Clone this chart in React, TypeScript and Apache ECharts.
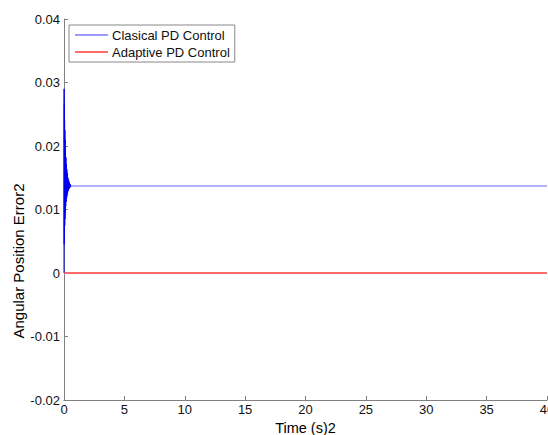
import React, { useEffect, useRef } from "react";
import * as echarts from "echarts";

const seriesNames = ["Clasical PD Control", "Adaptive PD Control"];
const classicalTime = [0, 0.01, 0.02, 0.03, 0.04, 0.05, 0.06, 0.07, 0.08, 0.09, 0.1, 0.12, 0.14, 0.16, 0.18, 0.2, 0.22, 0.24, 0.26, 0.28, 0.3, 0.33, 0.36, 0.39, 0.42, 0.45, 0.48, 0.52, 0.56, 0.6, 40];
const classicalError = [0, 0.029, 0.0045, 0.0265, 0.006, 0.024, 0.0075, 0.0225, 0.0085, 0.021, 0.0095, 0.0195, 0.0105, 0.0182, 0.0112, 0.0172, 0.0118, 0.0163, 0.0122, 0.0157, 0.0126, 0.015, 0.0129, 0.0146, 0.0132, 0.0143, 0.0134, 0.014, 0.0136, 0.0137, 0.0137];
const adaptiveTime = [0, 40];
const adaptiveError = [0, 0];
const xTicks = [0, 5, 10, 15, 20, 25, 30, 35, 40];
const yTicks = [-0.02, -0.01, 0, 0.01, 0.02, 0.03, 0.04];
const xTitle = "Time (s)2";
const yTitle = "Angular Position Error2";

export default function App() {
  const ref = useRef<HTMLDivElement>(null);
  useEffect(() => {
    if (!ref.current) return;
    const chart = echarts.init(ref.current, undefined, { renderer: "svg" });
    const font = "Arial, 'Liberation Sans', sans-serif";
    const axisColor = "#808080";
    const classical = classicalTime.map((t, i) => [t, classicalError[i]]);
    const settleIdx = classicalTime.indexOf(0.6);
    chart.setOption({
      animation: false,
      backgroundColor: "#ffffff",
      grid: { left: 64, right: 1, top: 19, bottom: 35, containLabel: false, outerBoundsMode: "none" },
      legend: {
        orient: "vertical",
        left: 69,
        top: 25,
        padding: [3, 5, 3, 6],
        itemGap: 3,
        itemWidth: 33,
        itemHeight: 2,
        icon: "rect",
        borderColor: "#888888",
        borderWidth: 1,
        backgroundColor: "#ffffff",
        textStyle: { fontFamily: font, fontSize: 13, color: "#111", padding: [0, 0, 0, -1], lineHeight: 14 },
        data: seriesNames,
      },
      xAxis: {
        type: "value",
        min: xTicks[0],
        max: xTicks[xTicks.length - 1],
        interval: xTicks[1] - xTicks[0],
        name: xTitle,
        nameLocation: "middle",
        nameGap: 19,
        nameTextStyle: { fontFamily: font, fontSize: 14.5, color: "#000", lineHeight: 15 },
        axisLine: { show: true, onZero: false, lineStyle: { color: axisColor, width: 1 } },
        axisTick: { show: true, inside: true, length: 4, lineStyle: { color: axisColor } },
        axisLabel: { fontFamily: font, fontSize: 13, color: "#111", margin: 3 },
        splitLine: { show: false },
      },
      yAxis: {
        type: "value",
        min: yTicks[0],
        max: yTicks[yTicks.length - 1],
        interval: 0.01,
        axisLine: { show: true, onZero: false, lineStyle: { color: axisColor, width: 1 } },
        axisTick: { show: true, inside: true, length: 4, lineStyle: { color: axisColor } },
        axisLabel: {
          fontFamily: font,
          fontSize: 13,
          color: "#111",
          margin: 4,
          formatter: (v: number) => String(parseFloat(v.toFixed(4))),
        },
        splitLine: { show: false },
      },
      graphic: [
        {
          type: "text",
          x: 18,
          y: 261,
          rotation: Math.PI / 2,
          style: {
            text: yTitle,
            fontFamily: font,
            fontSize: 15,
            fill: "#000",
            textAlign: "center",
            textVerticalAlign: "middle",
          },
        },
      ],
      series: [
        {
          name: seriesNames[0],
          type: "line",
          symbol: "none",
          color: "#9a9aff",
          lineStyle: { color: "#9a9aff", width: 1.5 },
          data: classical.slice(settleIdx),
          z: 2,
        },
        {
          name: seriesNames[0],
          type: "line",
          symbol: "none",
          color: "#9a9aff",
          lineStyle: { color: "#0000ee", width: 1 },
          data: classical.slice(0, settleIdx + 1),
          z: 3,
        },
        {
          name: seriesNames[1],
          type: "line",
          symbol: "none",
          color: "#ff6b6b",
          lineStyle: { color: "#ff6b6b", width: 2 },
          data: adaptiveTime.map((t, i) => [t, adaptiveError[i]]),
          z: 2,
        },
      ],
    });
    return () => chart.dispose();
  }, []);
  return (
    <div
      ref={ref}
      style={{ position: "fixed", left: 0, top: 0, width: 548, height: 435, background: "#fff" }}
    />
  );
}
